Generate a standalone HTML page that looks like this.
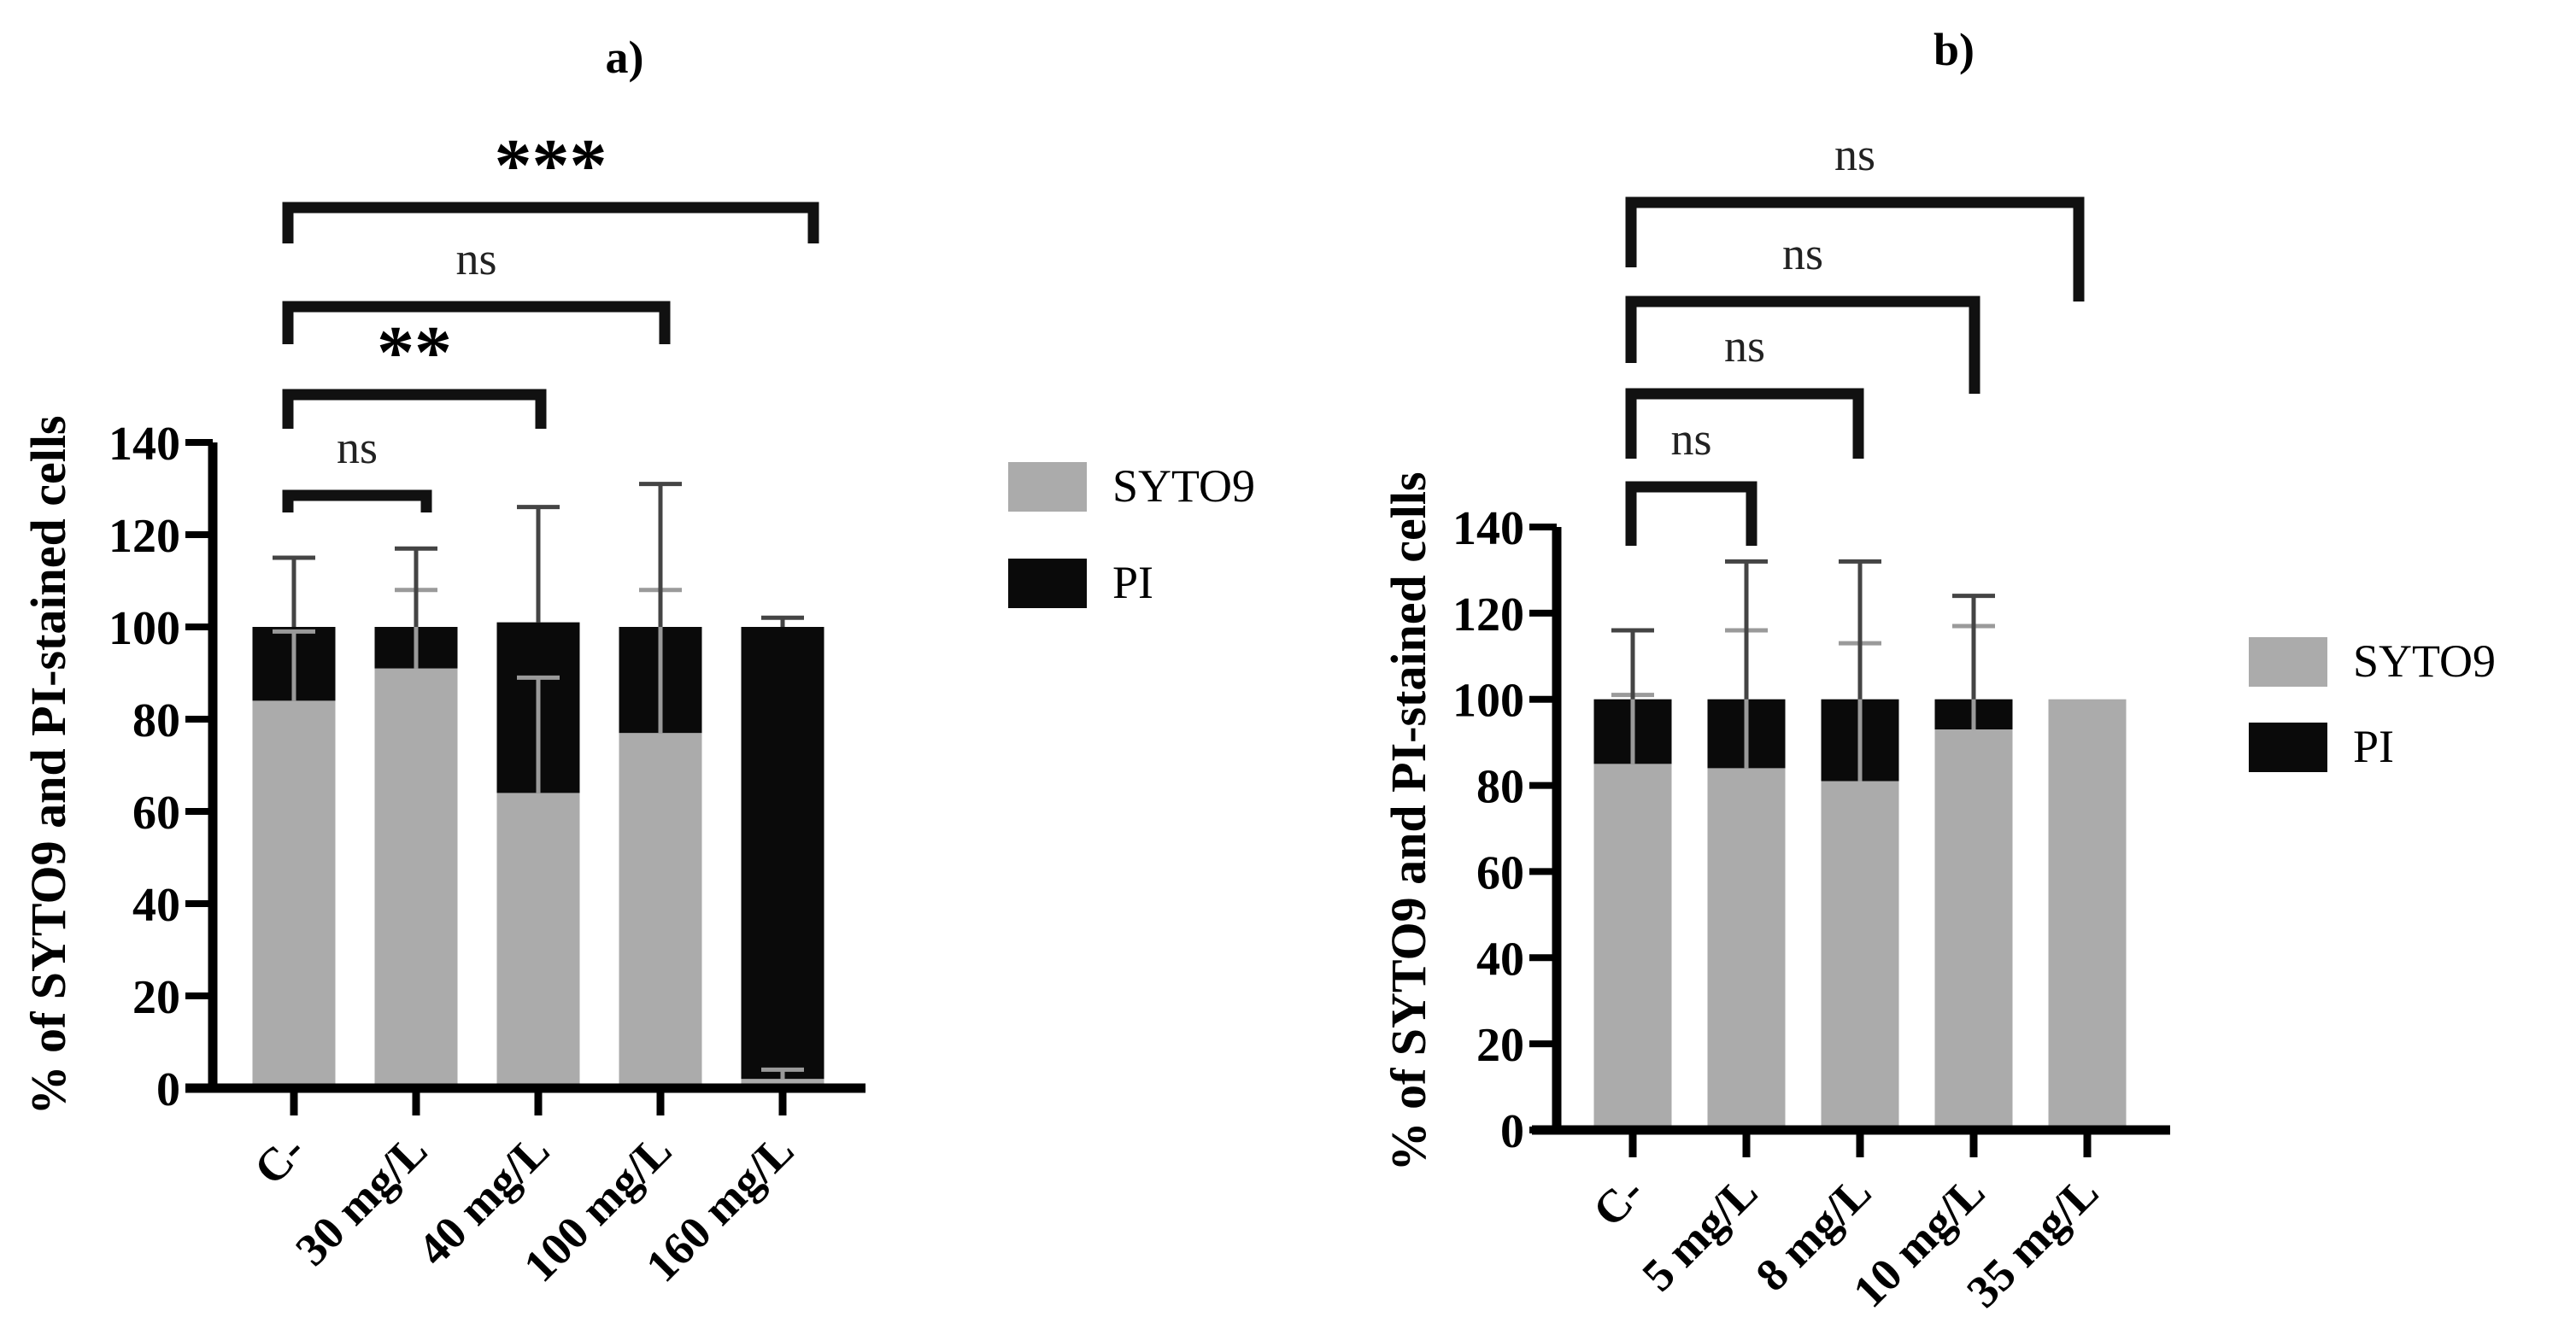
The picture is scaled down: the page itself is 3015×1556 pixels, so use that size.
<!DOCTYPE html>
<html><head><meta charset="utf-8">
<style>
html,body{margin:0;padding:0;background:#fff;}
svg{display:block;font-family:"Liberation Serif",serif;}
</style></head>
<body>
<svg id="chart" width="3015" height="1556" viewBox="0 0 3015 1556" xmlns="http://www.w3.org/2000/svg">
<text x="731" y="85" font-size="54" font-weight="bold" text-anchor="middle">a)</text>
<text x="2287" y="76" font-size="54" font-weight="bold" text-anchor="middle">b)</text>
</svg>
<script>
const catsA = ["C-", "30 mg/L", "40 mg/L", "100 mg/L", "160 mg/L"];
const sytoA = [84, 91, 64, 77, 2];
const piA = [16, 9, 37, 23, 98];
const sytoErrA = [99, 108, 89, 108, 4];
const piErrA = [115, 117, 126, 131, 102];
const sigA = ["ns", "**", "ns", "***"];

const catsB = ["C-", "5 mg/L", "8 mg/L", "10 mg/L", "35 mg/L"];
const sytoB = [85, 84, 81, 93, 100];
const piB = [15, 16, 19, 7, 0];
const sytoErrB = [101, 116, 113, 117, null];
const piErrB = [116, 132, 132, 124, null];
const sigB = ["ns", "ns", "ns", "ns"];

const yTicks = [0, 20, 40, 60, 80, 100, 120, 140];

const NS = "http://www.w3.org/2000/svg";
const svg = document.getElementById("chart");
function mk(tag, attrs, parent) {
  const e = document.createElementNS(NS, tag);
  for (const k in attrs) e.setAttribute(k, attrs[k]);
  (parent || svg).appendChild(e);
  return e;
}

function panel(cfg) {
  const g = mk("g", {});
  
  
  const y = v => cfg.y0 - (v / 140) * (cfg.y0 - cfg.y140);
  const x = i => cfg.x0 + i * cfg.step;
  cfg.cats.forEach((c, i) => {
    const s = mk("rect", {x: x(i) - cfg.bw / 2, y: y(cfg.syto[i]), width: cfg.bw, height: y(0) - y(cfg.syto[i]), fill: "#ababab"}, g);
    
    
    if (cfg.pi[i] > 0) {
      const p = mk("rect", {x: x(i) - cfg.bw / 2, y: y(cfg.syto[i] + cfg.pi[i]), width: cfg.bw, height: y(cfg.syto[i]) - y(cfg.syto[i] + cfg.pi[i]), fill: "#0a0a0a"}, g);
      
      
    }
    if (cfg.sErr[i] != null) {
      const e1 = mk("path", {d: `M${x(i)},${y(cfg.syto[i])}V${y(cfg.sErr[i])}M${x(i)-25},${y(cfg.sErr[i])}H${x(i)+25}`, stroke: "#9a9a9a", "stroke-width": 5, fill: "none"}, g);
      
      
    }
    if (cfg.pErr[i] != null) {
      const tot = cfg.syto[i] + cfg.pi[i];
      const e2 = mk("path", {d: `M${x(i)},${y(tot)}V${y(cfg.pErr[i])}M${x(i)-25},${y(cfg.pErr[i])}H${x(i)+25}`, stroke: "#444", "stroke-width": 5, fill: "none"}, g);
      
      
    }
  });
  const ax = mk("path", {d: `M${cfg.ax},${y(140)}V${y(0)}M${cfg.xs},${y(0)}H${cfg.xe}`, stroke: "#000", "stroke-width": 11, fill: "none"}, g);
  
  
  yTicks.forEach(t => {
    const tk = mk("line", {x1: cfg.ax - 32, x2: cfg.ax, y1: y(t), y2: y(t), stroke: "#000", "stroke-width": 8}, g);
    
    
    const tl = mk("text", {x: cfg.ax - 38, y: y(t) + 20, "font-size": 56, "font-weight": "bold", "text-anchor": "end"}, g);
    tl.textContent = t;
    
    
  });
  cfg.cats.forEach((c, i) => {
    const tk = mk("line", {x1: x(i), x2: x(i), y1: y(0), y2: y(0) + 32, stroke: "#000", "stroke-width": 9}, g);
    
    
    const tl = mk("text", {x: 0, y: 0, "font-size": 54, "font-weight": "bold", "text-anchor": "end", transform: `translate(${x(i) + 16},${y(0) + 76}) rotate(-45)`}, g);
    tl.textContent = c;
    
    
  });
  const yt = mk("text", {x: 0, y: 0, "font-size": 58, "font-weight": "bold", "text-anchor": "middle", transform: `translate(${cfg.ytx},${cfg.yty}) rotate(-90)`}, g);
  yt.textContent = "% of SYTO9 and PI-stained cells";
  
  
  cfg.br.forEach((b, k) => {
    const p = mk("path", {d: `M${cfg.bl},${b.ll}V${b.h}H${b.r}V${b.rl}`, stroke: "#111", "stroke-width": 13, fill: "none"}, g);
    
    
    const st = cfg.sig[k] === "ns";
    const t = mk("text", {x: (cfg.bl + b.r) / 2, y: b.h - (st ? 38 : 20), "font-size": st ? 54 : 88, "font-weight": st ? "normal" : "bold", "text-anchor": "middle", fill: st ? "#222" : "#000"}, g);
    t.textContent = cfg.sig[k];
    
    
  });
  [["SYTO9", "#ababab", cfg.lg[1]], ["PI", "#0a0a0a", cfg.lg[2]]].forEach(([n, col, ly], k) => {
    const r = mk("rect", {x: cfg.lg[0], y: ly, width: 92, height: 58, fill: col}, g);
    
    
    const t = mk("text", {x: cfg.lg[0] + 122, y: ly + 46, "font-size": 54}, g);
    t.textContent = n;
    
    
  });
}

panel({id: "panel-a", cats: catsA, syto: sytoA, pi: piA, sErr: sytoErrA, pErr: piErrA, sig: sigA,
  x0: 344, step: 143, bw: 97, y0: 1274, y140: 518, ax: 249, xs: 217, xe: 1013,
  ytx: 76, yty: 896, bl: 337,
  br: [{h: 580, ll: 600, r: 499, rl: 600}, {h: 462, ll: 502, r: 633, rl: 502}, {h: 359, ll: 403, r: 778, rl: 403}, {h: 243, ll: 285, r: 952, rl: 285}],
  lg: [1180, 541, 654]});
panel({id: "panel-b", cats: catsB, syto: sytoB, pi: piB, sErr: sytoErrB, pErr: piErrB, sig: sigB,
  x0: 1911, step: 133, bw: 91, y0: 1323, y140: 617, ax: 1822, xs: 1793, xe: 2540,
  ytx: 1668, yty: 962, bl: 1909,
  br: [{h: 570, ll: 639, r: 2050, rl: 639}, {h: 461, ll: 537, r: 2175, rl: 537}, {h: 353, ll: 425, r: 2311, rl: 461}, {h: 237, ll: 313, r: 2433, rl: 353}],
  lg: [2632, 746, 846]});
</script>
</body></html>
